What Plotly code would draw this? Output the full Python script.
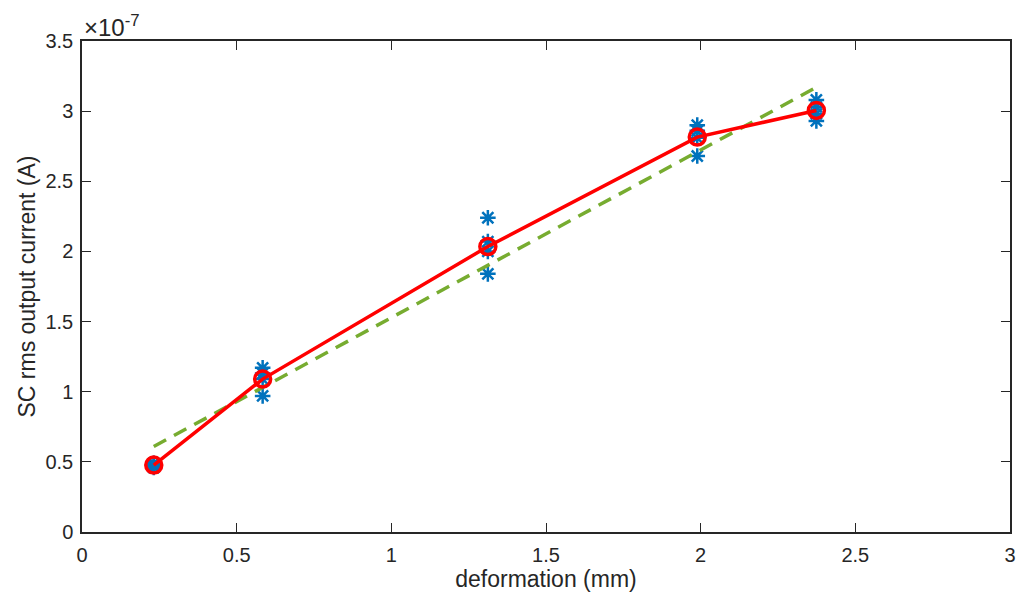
import plotly.graph_objects as go

# deformation levels (mm)
deformation = [0.232, 0.584, 1.312, 1.989, 2.374]

# repeated SC rms current measurements at each deformation (x 1e-7 A)
samples = [
    [0.46, 0.47, 0.48, 0.49],
    [1.17, 1.13, 1.09, 0.97],
    [2.24, 2.07, 2.00, 1.84],
    [2.90, 2.86, 2.81, 2.68],
    [3.08, 3.03, 2.98, 2.93],
]

# mean current at each deformation (x 1e-7 A)
mean_current = [0.477, 1.09, 2.035, 2.815, 3.005]

# linear fit evaluated at the first and last deformation (x 1e-7 A)
fit_x = [0.232, 2.374]
fit_y = [0.61, 3.17]

x_ticks = [0, 0.5, 1, 1.5, 2, 2.5, 3]
y_ticks = [0, 0.5, 1, 1.5, 2, 2.5, 3, 3.5]

axis_color = "#262626"
font_family = "Liberation Sans, Arial, sans-serif"

sx, sy = [], []
for d, vals in zip(deformation, samples):
    for v in vals:
        sx.append(d)
        sy.append(v)

fig = go.Figure()

fig.add_trace(go.Scatter(
    x=sx, y=sy, mode="markers",
    marker=dict(symbol="asterisk-open", size=13, color="#0072BD",
                line=dict(color="#0072BD", width=2.5)),
    showlegend=False, hoverinfo="x+y",
))

fig.add_trace(go.Scatter(
    x=fit_x, y=fit_y, mode="lines",
    line=dict(color="#77AC30", width=3.5, dash="14px,9px"),
    showlegend=False,
))

fig.add_trace(go.Scatter(
    x=deformation, y=mean_current, mode="lines+markers",
    line=dict(color="#FF0000", width=3.5),
    marker=dict(symbol="circle-open", size=16, color="#FF0000",
                line=dict(color="#FF0000", width=3.5)),
    showlegend=False,
))

axis_common = dict(
    showline=True, linecolor=axis_color, linewidth=1.5, mirror="ticks",
    ticks="inside", ticklen=9, tickwidth=1.2, tickcolor=axis_color,
    showgrid=False, zeroline=False, automargin=False,
    tickfont=dict(family=font_family, size=20, color=axis_color),
)

fig.update_xaxes(
    range=[0, 3], tickvals=x_ticks, ticktext=[f"{v:g}" for v in x_ticks],
    title=dict(text="deformation (mm)", standoff=5,
               font=dict(family=font_family, size=23, color=axis_color)),
    ticklabelstandoff=4,
    **axis_common,
)
fig.update_yaxes(
    range=[0, 3.5], tickvals=y_ticks, ticktext=[f"{v:g}" for v in y_ticks],
    title=dict(text="SC rms output current (A)", standoff=3,
               font=dict(family=font_family, size=23, color=axis_color)),
    ticklabelstandoff=3,
    **axis_common,
)

fig.add_annotation(
    x=0, y=1, xref="paper", yref="paper", xanchor="left", yanchor="bottom",
    text="×10<sup>-7</sup>", showarrow=False, yshift=-2,
    font=dict(family=font_family, size=24, color=axis_color),
)

fig.update_layout(
    width=1029, height=597,
    margin=dict(l=82, r=19, t=41, b=65),
    paper_bgcolor="white", plot_bgcolor="white",
)

fig.write_html("out.html")
